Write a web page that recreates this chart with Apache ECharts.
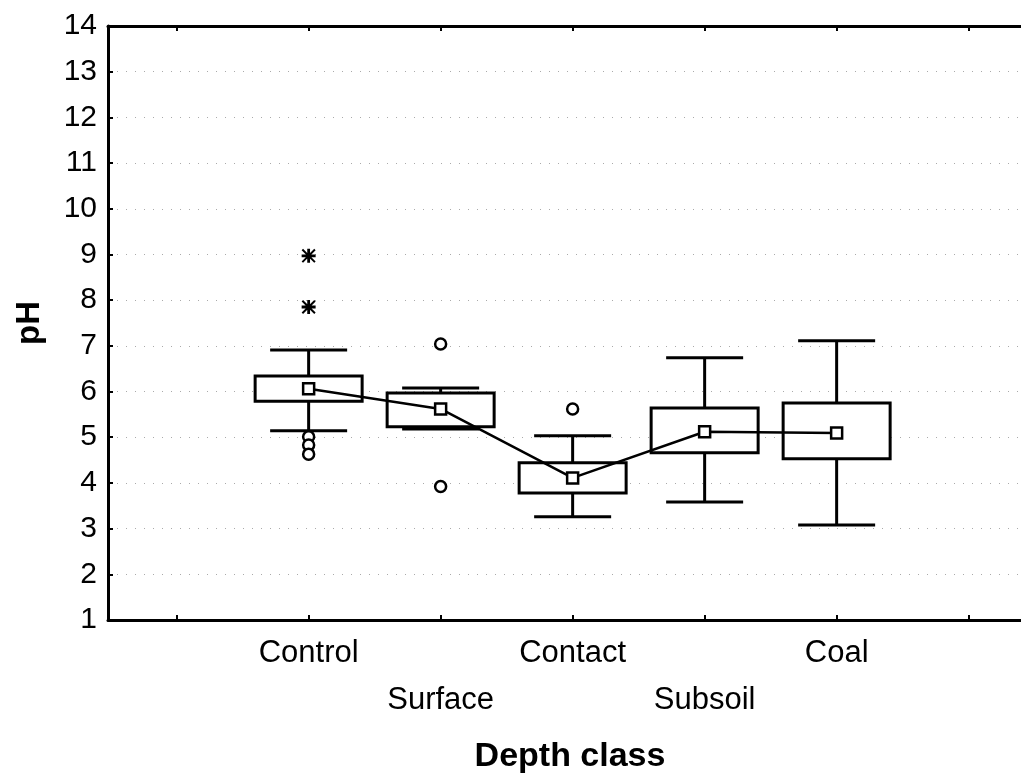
<!DOCTYPE html>
<html>
<head>
<meta charset="utf-8">
<title>pH by depth class</title>
<script src="https://cdn.jsdelivr.net/npm/echarts@6/dist/echarts.min.js"></script>
<style>
  html, body { margin: 0; padding: 0; background: #fff; }
  #chart { width: 1021px; height: 773px; }
</style>
</head>
<body>
<div id="chart"></div>
<script>
const categories = ['Control', 'Surface', 'Contact', 'Subsoil', 'Coal']
const meanValues = [6.06, 5.62, 4.11, 5.12, 5.09]
const boxLow = [5.79, 5.23, 3.78, 4.66, 4.53]
const boxHigh = [6.34, 5.97, 4.44, 5.64, 5.75]
const whiskerLow = [5.14, 5.18, 3.26, 3.58, 3.08]
const whiskerHigh = [6.91, 6.08, 5.03, 6.74, 7.11]
// [category position, value]
const outliers = [[1, 5.01], [1, 4.83], [1, 4.63], [2, 7.04], [2, 3.92], [3, 5.62]]
const extremes = [[1, 8.97], [1, 7.85]]
const xTickValues = [0, 1, 2, 3, 4, 5, 6]
const xLabelValues = [1, 2, 3, 4, 5]

const font = 'Arial, "Liberation Sans", sans-serif'
const boxWidth = 107
const capWidth = 77

const asterisk = 'path://M4,0 L6,0 L6,10 L4,10 Z M0,4 L10,4 L10,6 L0,6 Z M1,0 L10,9 L9,10 L0,1 Z M9,0 L10,1 L1,10 L0,9 Z'

const chart = echarts.init(document.getElementById('chart'))

const renderBox = (params, api) => {
  const x = api.value(0)
  const wLo = api.coord([x, api.value(1)])
  const bLo = api.coord([x, api.value(2)])
  const bHi = api.coord([x, api.value(3)])
  const wHi = api.coord([x, api.value(4)])
  const cx = wLo[0]
  const line = { stroke: '#000', lineWidth: 3 }
  return {
    type: 'group',
    children: [
      { type: 'line', shape: { x1: cx, y1: wLo[1], x2: cx, y2: bLo[1] }, style: line },
      { type: 'line', shape: { x1: cx, y1: bHi[1], x2: cx, y2: wHi[1] }, style: line },
      { type: 'line', shape: { x1: cx - capWidth / 2, y1: wLo[1], x2: cx + capWidth / 2, y2: wLo[1] }, style: line },
      { type: 'line', shape: { x1: cx - capWidth / 2, y1: wHi[1], x2: cx + capWidth / 2, y2: wHi[1] }, style: line },
      {
        type: 'rect',
        shape: { x: cx - boxWidth / 2, y: bHi[1], width: boxWidth, height: bLo[1] - bHi[1] },
        style: { fill: '#fff', stroke: '#000', lineWidth: 3 }
      }
    ]
  }
}

const option = {
  backgroundColor: '#fff',
  animation: false,
  grid: { left: 108, top: 26, width: 924, height: 594, outerBoundsMode: 'none', containLabel: false },
  xAxis: [{
    type: 'value',
    min: -0.52,
    max: 6.48,
    position: 'bottom',
    name: 'Depth class',
    nameLocation: 'middle',
    nameGap: 120,
    nameTextStyle: { fontFamily: font, fontSize: 34, fontWeight: 'bold', color: '#000' },
    axisLine: { onZero: false, lineStyle: { color: '#000', width: 3 } },
    axisTick: { inside: true, length: 5, customValues: xTickValues, lineStyle: { color: '#000', width: 2 } },
    axisLabel: {
      customValues: xLabelValues,
      margin: 10,
      fontFamily: font,
      fontSize: 31,
      color: '#000',
      lineHeight: 47,
      formatter: (v) => (v % 2 === 0 ? '\n' : '') + categories[v - 1]
    },
    splitLine: { show: false }
  }, {
    type: 'value',
    min: -0.52,
    max: 6.48,
    position: 'top',
    axisLine: { onZero: false, lineStyle: { color: '#000', width: 3 } },
    axisTick: { inside: true, length: 5, customValues: xTickValues, lineStyle: { color: '#000', width: 2 } },
    axisLabel: { show: false },
    splitLine: { show: false }
  }],
  yAxis: {
    type: 'value',
    min: 1,
    max: 14,
    interval: 1,
    name: 'pH',
    nameLocation: 'middle',
    nameRotate: 90,
    nameGap: 62,
    nameTextStyle: { fontFamily: font, fontSize: 33, fontWeight: 'bold', color: '#000' },
    axisLine: { show: true, onZero: false, lineStyle: { color: '#000', width: 3 } },
    axisTick: { show: true, inside: true, length: 5, lineStyle: { color: '#000', width: 2 } },
    axisLabel: { margin: 11, fontFamily: font, fontSize: 30, color: '#000' },
    splitLine: { show: true, lineStyle: { color: '#aaa', width: 1, type: [1, 8] } }
  },
  series: [{
    type: 'custom',
    renderItem: renderBox,
    data: categories.map((c, i) => [i + 1, whiskerLow[i], boxLow[i], boxHigh[i], whiskerHigh[i]]),
    encode: { x: 0, y: [1, 2, 3, 4] },
    z: 2
  }, {
    type: 'line',
    data: meanValues.map((v, i) => [i + 1, v]),
    lineStyle: { color: '#000', width: 2.5 },
    symbol: 'rect',
    symbolSize: 11,
    itemStyle: { color: '#fff', borderColor: '#000', borderWidth: 2.5 },
    z: 3
  }, {
    type: 'scatter',
    data: outliers,
    symbol: 'circle',
    symbolSize: 11,
    itemStyle: { color: '#fff', borderColor: '#000', borderWidth: 2.5, opacity: 1 },
    z: 4
  }, {
    type: 'scatter',
    data: extremes,
    symbol: asterisk,
    symbolSize: 14,
    itemStyle: { color: '#000', opacity: 1 },
    z: 4
  }]
}

chart.setOption(option)
</script>
</body>
</html>
